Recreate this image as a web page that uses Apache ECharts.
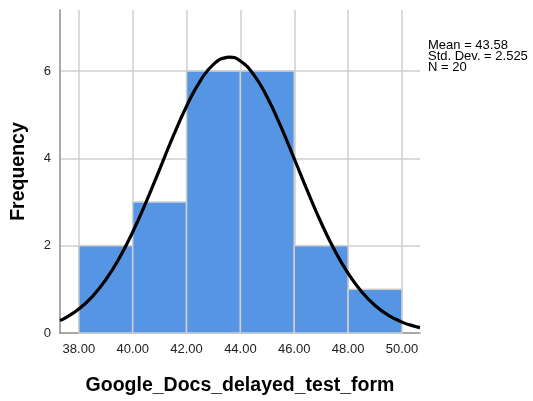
<!DOCTYPE html>
<html>
<head>
<meta charset="utf-8">
<script src="https://cdn.jsdelivr.net/npm/echarts@6/dist/echarts.min.js"></script>
<style>
  html, body { margin: 0; padding: 0; background: #fff; }
  #chart { width: 533px; height: 401px; }
</style>
</head>
<body>
<div id="chart"></div>
<script>
// Histogram bins (lower edge, upper edge) and their frequencies
const binStarts = [38, 40, 42, 44, 46, 48];
const binEnds   = [40, 42, 44, 46, 48, 50];
const counts    = [2, 3, 6, 6, 2, 1];

// Fitted normal curve (Mean = 43.58, Std. Dev. = 2.525, N = 20, bin width 2)
const curveX = [37.3, 37.5, 38, 38.5, 39, 39.5, 40, 40.5, 41, 41.5, 42, 42.5, 43, 43.5, 43.58,
                44, 44.5, 45, 45.5, 46, 46.5, 47, 47.5, 48, 48.5, 49, 49.5, 50, 50.5, 50.67];
const curveY = [0.287, 0.348, 0.550, 0.835, 1.220, 1.713, 2.313, 3.003, 3.750, 4.502, 5.196, 5.767, 6.155, 6.316, 6.320,
                6.233, 5.914, 5.395, 4.733, 3.992, 3.238, 2.525, 1.894, 1.366, 0.947, 0.631, 0.405, 0.249, 0.148, 0.123];

const statsLines = ['Mean = 43.58', 'Std. Dev. = 2.525', 'N = 20'];

const font = 'Liberation Sans, Arial, sans-serif';
const chart = echarts.init(document.getElementById('chart'), null, { renderer: 'canvas' });

chart.setOption({
  animation: false,
  backgroundColor: '#ffffff',
  grid: { left: 60, top: 10, right: 113, bottom: 68, containLabel: false },
  xAxis: {
    type: 'value',
    min: 37.3,
    max: 50.67,
    splitNumber: 7,
    name: 'Google_Docs_delayed_test_form',
    nameLocation: 'middle',
    nameGap: 43,
    nameTextStyle: { fontFamily: font, fontSize: 19.5, fontWeight: 'bold', color: '#000' },
    axisLine: { show: true, lineStyle: { color: '#8c8c8c', width: 1.5 } },
    axisTick: { show: false },
    axisLabel: {
      showMinLabel: false, showMaxLabel: false,
      fontFamily: font, fontSize: 13, color: '#222', margin: 10,
      formatter: v => v.toFixed(2)
    },
    splitLine: { show: true, showMinLine: false, showMaxLine: false, lineStyle: { color: '#cfcfcf', width: 1.5 } }
  },
  yAxis: {
    type: 'value',
    min: 0,
    max: 7.4,
    interval: 2,
    name: 'Frequency',
    nameLocation: 'middle',
    nameGap: 31,
    nameRotate: 90,
    nameTextStyle: { fontFamily: font, fontSize: 19.5, fontWeight: 'bold', color: '#000' },
    axisLine: { show: true, lineStyle: { color: '#8c8c8c', width: 1.5 } },
    axisTick: { show: false },
    axisLabel: { showMaxLabel: false, fontFamily: font, fontSize: 13, color: '#222', margin: 9 },
    splitLine: { show: true, showMinLine: false, showMaxLine: false, lineStyle: { color: '#cfcfcf', width: 1.5 } }
  },
  series: [
    {
      type: 'custom',
      data: counts.map((c, i) => [binStarts[i], binEnds[i], c]),
      renderItem: function (params, api) {
        const p0 = api.coord([api.value(0), api.value(2)]);
        const p1 = api.coord([api.value(1), 0]);
        return {
          type: 'rect',
          shape: { x: p0[0], y: p0[1], width: p1[0] - p0[0], height: p1[1] - p0[1] },
          style: { fill: '#5595e4', stroke: '#cfcfcf', lineWidth: 1.5 }
        };
      },
      z: 2
    },
    {
      type: 'line',
      data: curveX.map((x, i) => [x, curveY[i]]),
      smooth: true,
      showSymbol: false,
      lineStyle: { color: '#000', width: 3.2 },
      z: 3
    }
  ],
  graphic: statsLines.map((t, i) => ({
    type: 'text',
    left: 428,
    top: 39 + i * 11,
    style: { text: t, fontFamily: font, fontSize: 13, lineHeight: 13, fill: '#000' }
  }))
});
</script>
</body>
</html>
